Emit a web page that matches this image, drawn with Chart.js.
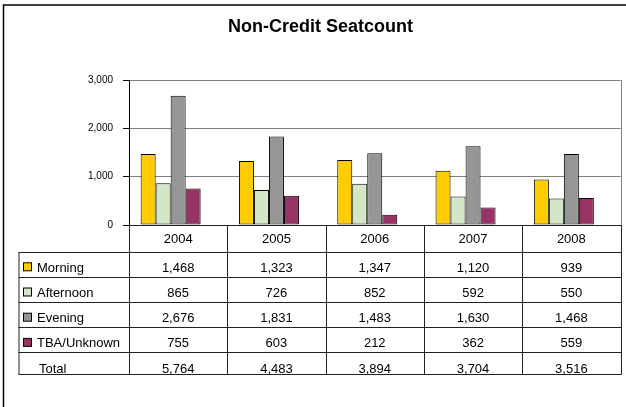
<!DOCTYPE html>
<html>
<head>
<meta charset="utf-8">
<script src="https://cdn.jsdelivr.net/npm/chart.js@4/dist/chart.umd.min.js"></script>
<style>
  html, body { margin: 0; padding: 0; background: #fff; }
  canvas { display: block; }
</style>
</head>
<body>
<canvas id="seatChart" width="626" height="407"></canvas>
<script>
const years = ["2004", "2005", "2006", "2007", "2008"];
const morning = [1468, 1323, 1347, 1120, 939];
const afternoon = [865, 726, 852, 592, 550];
const evening = [2676, 1831, 1483, 1630, 1468];
const tbaUnknown = [755, 603, 212, 362, 559];
const totals = [5764, 4483, 3894, 3704, 3516];
const seriesNames = ["Morning", "Afternoon", "Evening", "TBA/Unknown"];
const seriesColors = ["#FFCC00", "#D3E6C6", "#969696", "#993366"];
const yMax = 3000;
const yStep = 1000;

const FONT = "'Liberation Sans', Arial, sans-serif";
const seriesValues = [morning, afternoon, evening, tbaUnknown];
const fmt = v => v.toLocaleString("en-US");

// data table under the plot, columns follow the category scale
const dataTable = {
  id: "dataTable",
  beforeDraw(chart) {
    const ctx = chart.ctx;
    ctx.save();
    ctx.fillStyle = "#fff";
    ctx.fillRect(0, 0, chart.width, chart.height);
    // outer frame (only top and left edges fall inside the canvas)
    ctx.strokeStyle = "#000";
    ctx.lineWidth = 1.5;
    ctx.beginPath();
    ctx.moveTo(3.5, chart.height);
    ctx.lineTo(3.5, 5);
    ctx.lineTo(chart.width, 5);
    ctx.stroke();
    ctx.restore();
  },
  afterDraw(chart) {
    const { ctx, chartArea: a, scales: { x } } = chart;
    const colW = (a.right - a.left) / years.length;
    const legendLeft = 18.5;
    const headerBottom = a.bottom + 26.5;
    const rowH = 25.2;
    const rowTops = [];
    for (let i = 0; i < 5; i++) rowTops.push(headerBottom + i * rowH);
    const bottom = 374;

    ctx.save();
    // plot right edge
    ctx.strokeStyle = "#808080";
    ctx.lineWidth = 1;
    ctx.beginPath();
    ctx.moveTo(Math.round(a.right) + 0.5, a.top);
    ctx.lineTo(Math.round(a.right) + 0.5, a.bottom);
    ctx.stroke();

    ctx.strokeStyle = "#222";
    ctx.beginPath();
    ctx.moveTo(a.left, Math.round(a.bottom) + 0.5);
    ctx.lineTo(a.right + 1, Math.round(a.bottom) + 0.5);
    rowTops.forEach(y => {
      ctx.moveTo(legendLeft, Math.round(y) + 0.5);
      ctx.lineTo(a.right + 1, Math.round(y) + 0.5);
    });
    ctx.moveTo(legendLeft, bottom + 0.5);
    ctx.lineTo(a.right + 1, bottom + 0.5);
    ctx.moveTo(legendLeft + 0.5, Math.round(headerBottom) + 0.5);
    ctx.lineTo(legendLeft + 0.5, bottom + 0.5);
    for (let i = 0; i <= years.length; i++) {
      const xx = Math.round(a.left + i * colW) + 0.5;
      ctx.moveTo(xx, Math.round(a.bottom));
      ctx.lineTo(xx, bottom + 0.5);
    }
    ctx.stroke();

    ctx.fillStyle = "#000";
    ctx.font = "13px " + FONT;
    ctx.textBaseline = "alphabetic";
    ctx.textAlign = "center";
    years.forEach((yr, i) => {
      ctx.fillText(yr, x.getPixelForValue(i), a.bottom + 18);
    });

    const rows = seriesValues.concat([totals]);
    rows.forEach((vals, r) => {
      const base = rowTops[r] + 20.3;
      ctx.textAlign = "center";
      ctx.fillStyle = "#000";
      vals.forEach((v, i) => ctx.fillText(fmt(v), x.getPixelForValue(i), base));
      ctx.textAlign = "left";
      if (r < seriesNames.length) {
        ctx.fillStyle = seriesColors[r];
        ctx.fillRect(23.5, base - 9, 8, 8);
        ctx.strokeStyle = "#000";
        ctx.strokeRect(23.5, base - 9, 8, 8);
        ctx.fillStyle = "#000";
        ctx.fillText(seriesNames[r], 37, base);
      } else {
        ctx.fillText("Total", 39, base);
      }
    });
    ctx.restore();
  }
};

const datasets = seriesNames.map((name, i) => ({
  label: name,
  data: seriesValues[i],
  backgroundColor: seriesColors[i],
  borderColor: "#000",
  borderWidth: 1,
  borderSkipped: false
}));
// empty slot at the end of each group, keeps the bars left of the column centre
datasets.push({ label: "", data: years.map(() => null), backgroundColor: "rgba(0,0,0,0)" });

new Chart(document.getElementById("seatChart"), {
  type: "bar",
  data: { labels: years, datasets: datasets },
  options: {
    responsive: false,
    animation: false,
    devicePixelRatio: 1,
    layout: { padding: { left: 20.5, right: 5.5, top: 0, bottom: 0 } },
    datasets: { bar: { categoryPercentage: 0.763, barPercentage: 1 } },
    plugins: {
      legend: { display: false },
      tooltip: { enabled: false },
      title: {
        display: true,
        text: "Non-Credit Seatcount",
        color: "#000",
        font: { family: FONT, size: 18, weight: "bold", lineHeight: 1.2 },
        padding: { top: 16.2, bottom: 42.2 }
      }
    },
    scales: {
      x: {
        ticks: { display: false },
        grid: { display: false },
        border: { display: true, color: "#000", width: 1 },
        afterFit: s => { s.height = 182; }
      },
      y: {
        min: 0,
        max: yMax,
        ticks: { stepSize: yStep, color: "#000", padding: 10, font: { family: FONT, size: 10 } },
        grid: { color: "#808080", tickColor: "#000", tickLength: 6 },
        border: { display: true, color: "#000", width: 1 },
        afterFit: s => { s.width = 108.5; }
      }
    }
  },
  plugins: [dataTable]
});
</script>
</body>
</html>
